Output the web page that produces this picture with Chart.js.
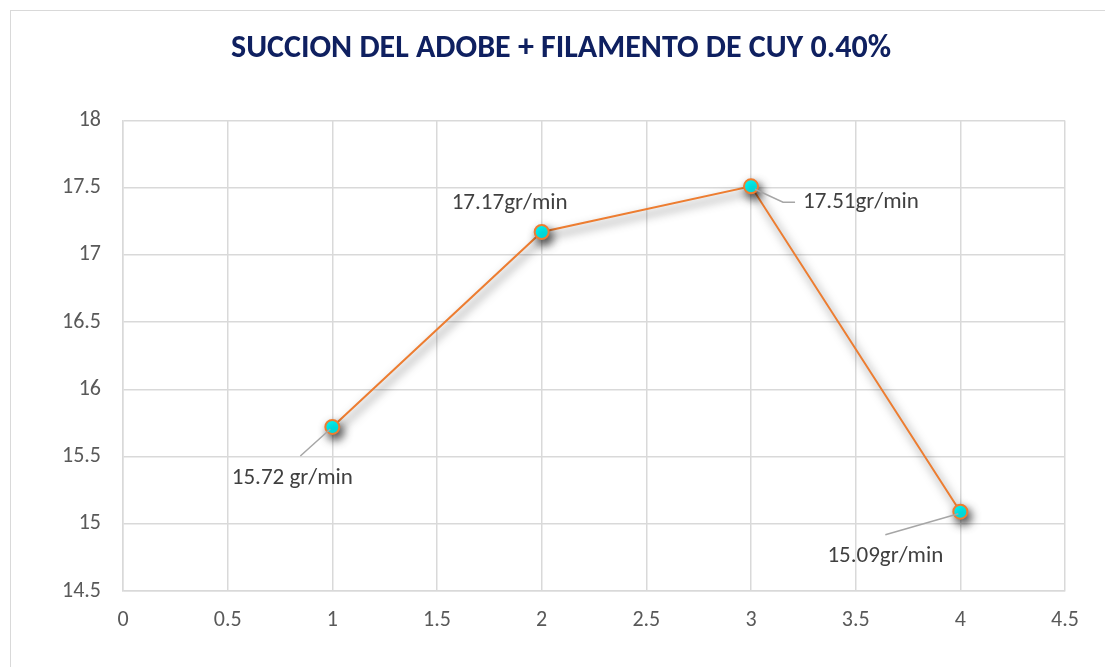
<!DOCTYPE html>
<html>
<head>
<meta charset="utf-8">
<script src="https://cdn.jsdelivr.net/npm/chart.js@4"></script>
<style>
  html, body { margin: 0; padding: 0; background: #fff; }
  #wrap { width: 1105px; height: 667px; }
</style>
</head>
<body>
<div id="wrap"><canvas id="line-chart"></canvas></div>
<script>
// data
var xValues = [1, 2, 3, 4];
var yValues = [15.72, 17.17, 17.51, 15.09];
var pointLabels = ["15.72 gr/min", "17.17gr/min", "17.51gr/min", "15.09gr/min"];
var chartTitle = "SUCCION DEL ADOBE + FILAMENTO DE CUY 0.40%";

// label placement relative to its point (pixels), and leader line yes/no
var labelOffsets = [[-40, 51], [-32, -29], [110, 16], [-75, 45]];
var leaders = [true, false, true, true];

var FONT = "Calibri, Carlito, Lato, sans-serif";

var frame = {
  id: 'frame',
  beforeDraw: function(chart) {
    var ctx = chart.ctx;
    ctx.save();
    ctx.fillStyle = '#fff';
    ctx.fillRect(0, 0, chart.width, chart.height);
    ctx.strokeStyle = '#d9d9d9';
    ctx.lineWidth = 1;
    ctx.strokeRect(10.5, 10.5, chart.width, chart.height);
    ctx.restore();
  }
};

var shadow = {
  id: 'shadow',
  beforeDatasetDraw: function(chart) {
    var ctx = chart.ctx;
    ctx.save();
    ctx.shadowColor = 'rgba(0,0,0,0.7)';
    ctx.shadowBlur = 10;
    ctx.shadowOffsetX = 3;
    ctx.shadowOffsetY = 5;
  },
  afterDatasetDraw: function(chart) {
    chart.ctx.restore();
  }
};

var labels = {
  id: 'labels',
  afterDatasetsDraw: function(chart) {
    var ctx = chart.ctx;
    var pts = chart.getDatasetMeta(0).data;
    ctx.save();
    ctx.font = '23px ' + FONT;
    ctx.fillStyle = '#404040';
    ctx.textAlign = 'center';
    ctx.textBaseline = 'middle';
    pts.forEach(function(p, i) {
      var lx = p.x + labelOffsets[i][0];
      var ly = p.y + labelOffsets[i][1];
      if (leaders[i]) {
        ctx.strokeStyle = '#a6a6a6';
        ctx.lineWidth = 1.5;
        ctx.beginPath();
        if (labelOffsets[i][0] > 0) {
          var w = ctx.measureText(pointLabels[i]).width;
          var ex = lx - w / 2 - 8;
          ctx.moveTo(p.x + 4, p.y + 3);
          ctx.lineTo(ex - 12, ly);
          ctx.lineTo(ex, ly);
        } else {
          ctx.moveTo(lx + (i == 0 ? 8 : 0), ly - 22);
          ctx.lineTo(p.x - 2, p.y + 2);
        }
        ctx.stroke();
      }
      ctx.fillText(pointLabels[i], lx, ly);
    });
    ctx.restore();
  }
};

new Chart(document.getElementById("line-chart"), {
  type: 'line',
  data: {
    datasets: [{
      data: xValues.map(function(x, i) { return { x: x, y: yValues[i] }; }),
      borderColor: "#ed7d31",
      borderWidth: 2,
      backgroundColor: "#00ffff",
      pointBackgroundColor: "#00ffff",
      pointBorderColor: "#ed7d31",
      pointBorderWidth: 2,
      pointRadius: 7,
      fill: false,
      tension: 0
    }]
  },
  options: {
    responsive: true,
    maintainAspectRatio: false,
    animation: false,
    layout: { padding: { left: 57, right: 40, top: 0, bottom: 0 } },
    plugins: {
      legend: { display: false },
      tooltip: { enabled: false },
      title: {
        display: true,
        text: chartTitle,
        color: '#0f2060',
        font: { family: FONT, size: 32, weight: 'bold' },
        padding: { top: 30, bottom: 52 }
      }
    },
    scales: {
      x: {
        type: 'linear',
        min: 0,
        max: 4.5,
        ticks: {
          stepSize: 0.5, color: '#595959', font: { family: FONT, size: 22 }, padding: 16,
          callback: function(v) { return String(v); }
        },
        grid: { color: '#d9d9d9', lineWidth: 1.5, drawTicks: false },
        border: { color: '#d9d9d9', width: 1.5 },
        afterFit: function(s) { s.height = 76; }
      },
      y: {
        min: 14.5,
        max: 18,
        ticks: {
          stepSize: 0.5, color: '#595959', font: { family: FONT, size: 22 }, padding: 22,
          callback: function(v) { return String(v); }
        },
        grid: { color: '#d9d9d9', lineWidth: 1.5, drawTicks: false },
        border: { color: '#d9d9d9', width: 1.5 },
        afterFit: function(s) { s.width = 66; }
      }
    }
  },
  plugins: [frame, shadow, labels]
});
</script>
</body>
</html>
